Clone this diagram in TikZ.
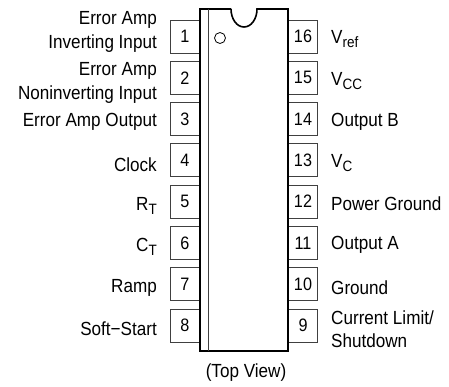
\documentclass[tikz,border=0pt]{standalone}
\usepackage{fontspec}
\setmainfont[FakeStretch=0.9]{Liberation Sans}
\newcommand{\subsc}[1]{\raisebox{-4pt}{\fontsize{15}{15}\selectfont #1}}
\begin{document}
\begin{tikzpicture}[x=1pt,y=-1pt,
  pinbox/.style={draw=black!75,line width=0.9pt,fill=white},
  lab/.style={font=\fontsize{19}{23.5}\selectfont,inner sep=0pt,align=right,anchor=east},
  rlab/.style={font=\fontsize{19}{23.5}\selectfont,inner sep=0pt,align=left,anchor=west},
  num/.style={font=\fontsize{18}{18}\selectfont,inner sep=0pt}]
\useasboundingbox (0,0) rectangle (449,386);
\foreach \i/\yy in {1/20,2/61.3,3/102.6,4/143.9,5/185.2,6/226.5,7/267.8,8/309}{
  \draw[pinbox] (200,\yy) -- (170,\yy) -- (170,\yy+33) -- (200,\yy+33);
  \node[num] (l\i) at (185,\yy+16.5) {\i};
}
\foreach \i/\yy in {16/20,15/61.3,14/102.6,13/143.9,12/185.2,11/226.5,10/267.8,9/309}{
  \draw[pinbox] (288,\yy) -- (317,\yy) -- (317,\yy+33) -- (288,\yy+33);
  \node[num] (r\i) at (303,\yy+16.5) {\i};
}
\draw[line width=1.6pt,line join=miter] (231,9) -- (200,9) -- (200,351) -- (288,351) -- (288,9) -- (257,9)
  arc[start angle=0,end angle=180,x radius=13,y radius=18];
\draw[line width=0.9pt,black!75] (208,9) -- (208,351);
\draw[line width=0.8pt] (220,38) circle[radius=5.5];
\node[lab] at (157,32) {Error Amp\\Inverting Input};
\node[lab] at (157,83) {Error Amp\\Noninverting Input};
\node[lab] at (157,122) {Error Amp Output};
\node[lab] at (157,165) {Clock};
\node[lab] at (157,206) {R\subsc{T}};
\node[lab] at (157,247) {C\subsc{T}};
\node[lab] at (157,288) {Ramp};
\node[lab] at (157,329) {Soft−Start};
\node[rlab] at (331,39) {V\subsc{ref}};
\node[rlab] at (331,81) {V\subsc{CC}};
\node[rlab] at (331,122) {Output B};
\node[rlab] at (331,163) {V\subsc{C}};
\node[rlab] at (331,204) {Power Ground};
\node[rlab] at (331,245) {Output A};
\node[rlab] at (331,288) {Ground};
\node[rlab] at (331,329) {Current Limit/\\Shutdown};
\node[rlab,anchor=center] at (246,373) {(Top View)};
\end{tikzpicture}
\end{document}
